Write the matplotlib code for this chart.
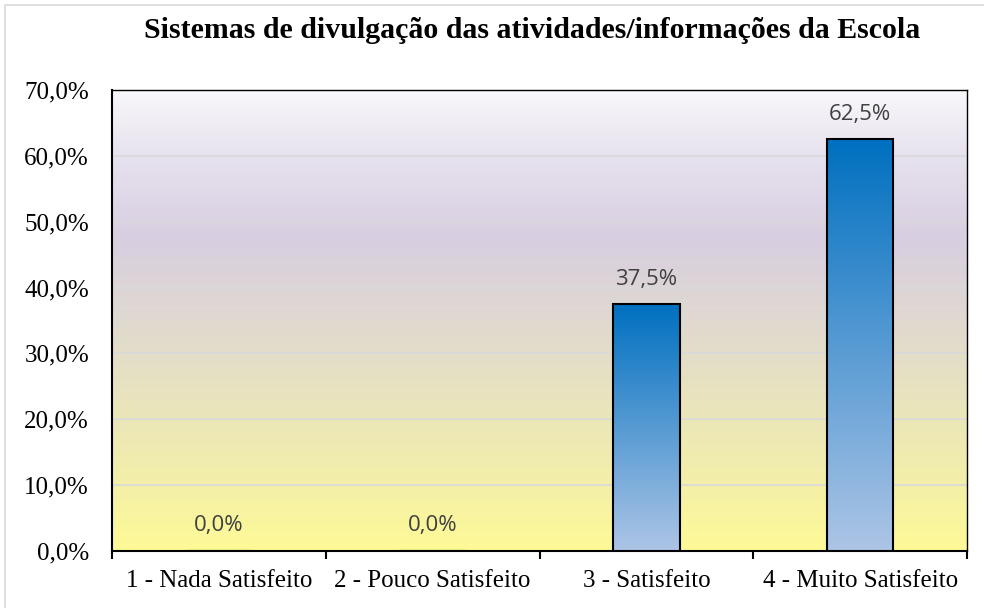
import matplotlib
matplotlib.use("Agg")
import matplotlib.pyplot as plt
import numpy as np
from matplotlib.colors import LinearSegmentedColormap
from matplotlib.patches import Rectangle

categories = ["1 - Nada Satisfeito", "2 - Pouco Satisfeito", "3 - Satisfeito", "4 - Muito Satisfeito"]
values = [0.0, 0.0, 37.5, 62.5]
yticks = [0, 10, 20, 30, 40, 50, 60, 70]
title = "Sistemas de divulgação das atividades/informações da Escola"

W, H = 984, 608
fig = plt.figure(figsize=(W / 100, H / 100), dpi=100)
fig.patch.set_facecolor("white")
ax = fig.add_axes([112 / W, (H - 551) / H, 855 / W, 461 / H])

# figure frame (only top and left edges visible; chart cropped on right/bottom)
fig.patches.append(Rectangle((5 / W, -20 / H), (W + 20) / W, (H + 15) / H, transform=fig.transFigure,
                             fill=False, edgecolor="#d9d9d9", linewidth=1.2, zorder=0))

# background gradient
bg = LinearSegmentedColormap.from_list("bg", [(0.0, "#fefa96"), (0.15, "#f3efa9"), (0.45, "#e2dccb"),
                                              (0.68, "#d8cee1"), (0.85, "#e6e1ee"), (1.0, "#f8f7fa")])
grad = np.linspace(0, 1, 256).reshape(-1, 1)
ax.imshow(grad, cmap=bg, origin="lower", aspect="auto", extent=(0, 1, 0, 1),
          transform=ax.transAxes, zorder=0, interpolation="bicubic")

# gridlines
for t in yticks[1:-1]:
    ax.axhline(t, color="#d9d9d9", linewidth=1.2, zorder=1)

# bars
bar_cmap = LinearSegmentedColormap.from_list("bar", ["#adc5e6", "#0070c0"])
width = 0.31
x = np.arange(len(categories))
bars = ax.bar(x, values, width=width, facecolor="none", edgecolor="black", linewidth=1.5, zorder=4)
for b, v in zip(bars, values):
    if v > 0:
        ax.imshow(grad, cmap=bar_cmap, origin="lower", aspect="auto",
                  extent=(b.get_x(), b.get_x() + b.get_width(), 0, v), zorder=3,
                  interpolation="bicubic")
    ax.annotate(f"{v:.1f}%".replace(".", ","), (b.get_x() + b.get_width() / 2, v),
                xytext=(0, 25), textcoords="offset pixels", ha="center", va="center",
                fontsize=16, family="Open Sans", color="#404040", zorder=5)

ax.set_xlim(-0.5, len(categories) - 0.5)
ax.set_ylim(0, 70)

ax.set_yticks(yticks)
ax.set_yticklabels([f"{t:.1f}%".replace(".", ",") for t in yticks],
                   fontsize=18, family="Liberation Serif", color="black")
ax.tick_params(axis="y", length=0, pad=16.5)

ax.set_xticks(np.arange(-0.5, len(categories), 1.0))
ax.set_xticklabels([])
ax.set_xticks(x, minor=True)
ax.set_xticklabels(categories, minor=True, fontsize=18, family="Liberation Serif", color="black")
ax.tick_params(axis="x", which="major", length=6, width=1.5, direction="out", color="black")
ax.tick_params(axis="x", which="minor", length=0, pad=14)

for s in ["left", "bottom", "top", "right"]:
    ax.spines[s].set_color("black")
ax.spines["left"].set_linewidth(1.5)
ax.spines["bottom"].set_linewidth(1.5)
ax.spines["top"].set_linewidth(1.0)
ax.spines["right"].set_linewidth(1.0)

fig.text(532 / W, 1 - 30 / H, title, ha="center", va="center", fontsize=21.5,
         family="Liberation Serif", fontweight="bold", color="black")

fig.savefig("out.png", dpi=100)
